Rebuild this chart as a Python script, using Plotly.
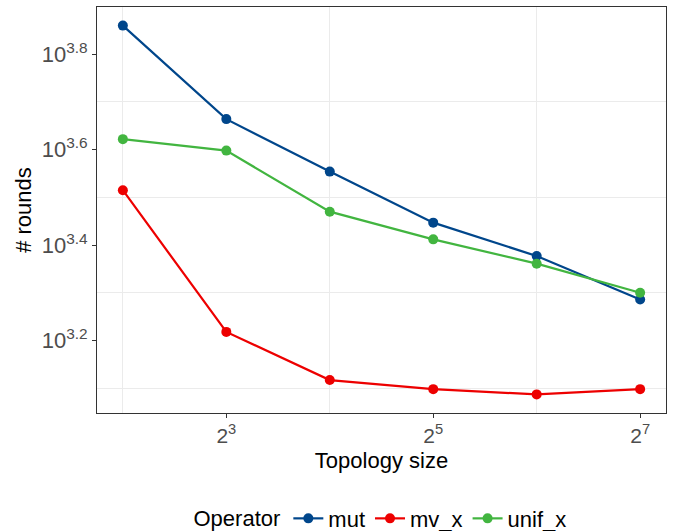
import plotly.graph_objects as go

sizes = [4, 8, 16, 32, 64, 128]
log_mut = [3.860, 3.664, 3.554, 3.447, 3.377, 3.286]
log_mv_x = [3.515, 3.218, 3.117, 3.098, 3.087, 3.098]
log_unif_x = [3.622, 3.598, 3.470, 3.412, 3.361, 3.300]

series = [("mut", log_mut, "#00468B"),
          ("mv_x", log_mv_x, "#ED0000"),
          ("unif_x", log_unif_x, "#42B540")]

x_ticks = [8, 32, 128]
x_ticktext = ["2<sup>3</sup>", "2<sup>5</sup>", "2<sup>7</sup>"]
x_minor = [4, 16, 64]
y_tick_exp = [3.2, 3.4, 3.6, 3.8]
y_minor_exp = [3.1, 3.3, 3.5, 3.7]

fig = go.Figure()
for name, vals, col in series:
    fig.add_trace(go.Scatter(
        x=sizes, y=[10 ** v for v in vals], name=name, mode="lines+markers",
        line=dict(color=col, width=2.2), marker=dict(color=col, size=10),
    ))

font = "Liberation Sans, Arial, sans-serif"
fig.update_layout(
    width=678, height=531,
    margin=dict(l=97, r=12, t=7, b=118, autoexpand=False),
    paper_bgcolor="white", plot_bgcolor="white",
    font=dict(family=font, size=22, color="black"),
    showlegend=True,
    legend=dict(orientation="h", x=0.5, xanchor="center", y=-0.26, yanchor="middle",
                title=dict(text="Operator", side="left", font=dict(size=22)),
                font=dict(size=22), itemwidth=30, tracegroupgap=0),
    xaxis=dict(type="log", range=[1.75 * 0.30103, 7.25 * 0.30103],
               tickvals=x_ticks, ticktext=x_ticktext,
               tickfont=dict(size=21, color="#4D4D4D"),
               ticks="outside", ticklen=4, tickcolor="#333333",
               showgrid=False, zeroline=False,
               minor=dict(tickvals=x_minor, showgrid=True, gridcolor="#EBEBEB",
                          gridwidth=1, ticklen=0),
               showline=True, linecolor="#333333", linewidth=1, mirror=True,
               title=dict(text="Topology size", font=dict(size=22), standoff=6)),
    yaxis=dict(type="log", range=[3.048, 3.899],
               tickvals=[10 ** e for e in y_tick_exp],
               ticktext=["10<sup>%.1f</sup>" % e for e in y_tick_exp],
               tickfont=dict(size=22, color="#4D4D4D"),
               ticks="outside", ticklen=4, tickcolor="#333333",
               showgrid=False, zeroline=False,
               minor=dict(tickvals=[10 ** e for e in y_minor_exp], showgrid=True,
                          gridcolor="#EBEBEB", gridwidth=1, ticklen=0),
               showline=True, linecolor="#333333", linewidth=1, mirror=True,
               title=dict(text="# rounds", font=dict(size=22), standoff=4)),
)

fig.write_html("out.html")
